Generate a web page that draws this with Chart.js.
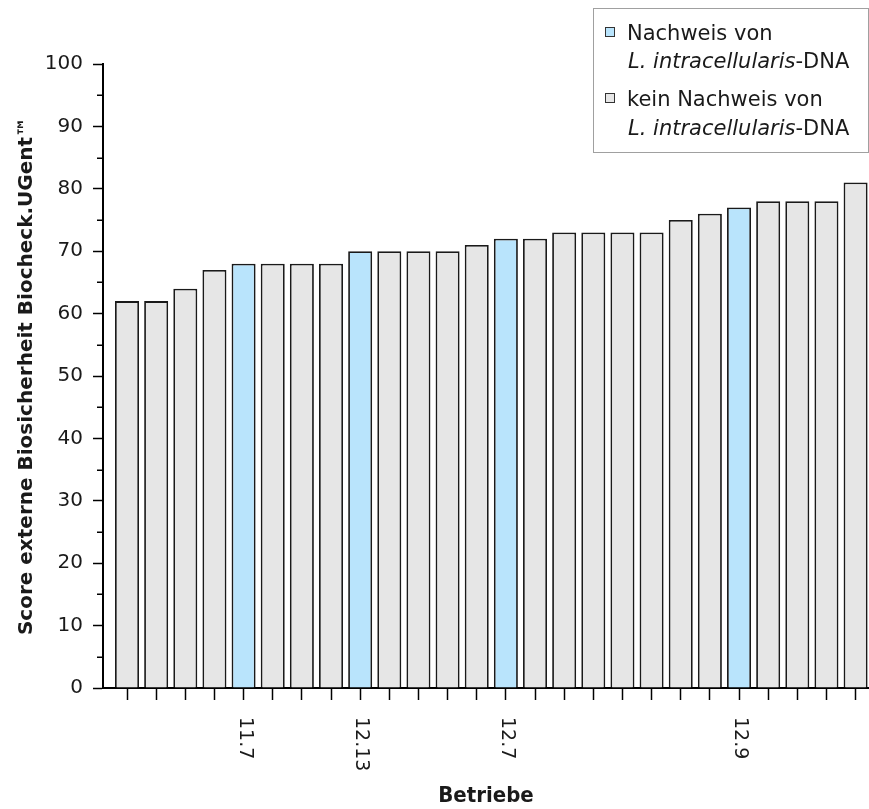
<!DOCTYPE html>
<html>
<head>
<meta charset="utf-8">
<script src="https://cdn.jsdelivr.net/npm/chart.js@4/dist/chart.umd.min.js"></script>
<style>
  html, body { margin: 0; padding: 0; background: #fff; }
  #wrap { position: relative; width: 869px; height: 809px; }
  canvas { display: block; }
</style>
</head>
<body>
<div id="wrap"><canvas id="c" width="869" height="809"></canvas></div>
<script>
// ---- data ----
const categories = ['', '', '', '', '11.7', '', '', '', '12.13', '', '', '', '', '12.7', '', '', '', '', '', '', '', '12.9', '', '', '', ''];
const scores     = [62, 62, 64, 67, 68, 68, 68, 68, 70, 70, 70, 70, 71, 72, 72, 73, 73, 73, 73, 75, 76, 77, 78, 78, 78, 81];
const detected   = [0, 0, 0, 0, 1, 0, 0, 0, 1, 0, 0, 0, 0, 1, 0, 0, 0, 0, 0, 0, 0, 1, 0, 0, 0, 0];
const yTicks     = [0, 10, 20, 30, 40, 50, 60, 70, 80, 90, 100];
const legendLabels = [
  ['Nachweis von', 'L. intracellularis', '-DNA'],
  ['kein Nachweis von', 'L. intracellularis', '-DNA']
];
const yTitle = 'Score externe Biosicherheit Biocheck.UGent™';
const xTitle = 'Betriebe';

// ---- styles ----
const BLUE = '#b9e4fc';
const GREY = '#e6e6e6';
const EDGE = '#1a1a1a';
const TXT = '#1a1a1a';
const FONT = '"DejaVu Sans", "Noto Sans", sans-serif';

const tableData = scores.map((v, i) => ({ x: i + 1, y: v }));

const extras = {
  id: 'extras',
  afterDraw(chart) {
    const ctx = chart.ctx;
    const xs = chart.scales.x, ys = chart.scales.y;
    const left = chart.chartArea.left;
    ctx.save();
    // minor y ticks
    ctx.strokeStyle = '#000';
    ctx.lineWidth = 1.5;
    for (let v = 5; v < 100; v += 10) {
      const y = Math.round(ys.getPixelForValue(v)) + 0.25;
      ctx.beginPath();
      ctx.moveTo(left - 6, y);
      ctx.lineTo(left, y);
      ctx.stroke();
    }
    // x tick labels rotated clockwise
    ctx.fillStyle = TXT;
    ctx.font = '19px ' + FONT;
    ctx.textAlign = 'left';
    ctx.textBaseline = 'middle';
    categories.forEach((lab, i) => {
      if (!lab) return;
      const x = xs.getPixelForValue(i + 1);
      ctx.save();
      ctx.translate(x + 1, 717);
      ctx.rotate(Math.PI / 2);
      ctx.fillText(lab, 0, 0);
      ctx.restore();
    });
    // legend
    ctx.fillStyle = '#fff';
    ctx.fillRect(593.5, 8.5, 275, 144);
    ctx.strokeStyle = '#a0a0a0';
    ctx.lineWidth = 1;
    ctx.strokeRect(593.5, 8.5, 275, 144);
    const baselines = [[40, 68], [106, 135]];
    const fills = [BLUE, GREY];
    legendLabels.forEach((lab, k) => {
      const [b1, b2] = baselines[k];
      ctx.fillStyle = fills[k];
      ctx.fillRect(605, b1 - 13, 9, 9);
      ctx.strokeStyle = '#333';
      ctx.lineWidth = 1;
      ctx.strokeRect(605.5, b1 - 12.5, 9, 9);
      ctx.fillStyle = TXT;
      ctx.textBaseline = 'alphabetic';
      ctx.textAlign = 'left';
      ctx.font = '21px ' + FONT;
      ctx.fillText(lab[0], 627, b1);
      ctx.font = 'italic 21px ' + FONT;
      ctx.fillText(lab[1], 628, b2);
      const w = ctx.measureText(lab[1]).width;
      ctx.font = '21px ' + FONT;
      ctx.fillText(lab[2], 628 + w, b2);
    });
    ctx.restore();
  }
};

new Chart(document.getElementById('c'), {
  type: 'bar',
  data: {
    datasets: [{
      data: tableData,
      backgroundColor: detected.map(d => d ? BLUE : GREY),
      borderColor: EDGE,
      borderWidth: 1.8,
      barPercentage: 0.824,
      categoryPercentage: 1.0
    }]
  },
  options: {
    responsive: false,
    animation: false,
    events: [],
    layout: { padding: { top: 64, right: 0, left: 0, bottom: 0 } },
    plugins: { legend: { display: false }, tooltip: { enabled: false } },
    scales: {
      x: {
        type: 'linear',
        offset: false,
        min: 0.176,
        max: 26.46,
        afterBuildTicks: s => { s.ticks = scores.map((_, i) => ({ value: i + 1 })); },
        afterFit: s => { s.height = 121; },
        grid: { offset: false, drawOnChartArea: false, drawTicks: true, tickLength: 12, tickColor: '#000', tickWidth: 1.5 },
        border: { display: true, color: '#000', width: 2 },
        ticks: { display: false },
        title: {
          display: true, text: xTitle, color: TXT,
          font: { family: '"DejaVu Sans Condensed", "Roboto Condensed", Roboto, sans-serif', size: 22, weight: '700', lineHeight: 1.2 },
          padding: { top: 0, bottom: 0 }
        }
      },
      y: {
        min: 0, max: 100,
        afterBuildTicks: s => { s.ticks = yTicks.map(v => ({ value: v })); },
        afterFit: s => { s.width = 103; },
        grid: { drawOnChartArea: false, drawTicks: true, tickLength: 10, tickColor: '#000', tickWidth: 1.5 },
        border: { display: true, color: '#000', width: 2 },
        ticks: { color: TXT, padding: 10, font: { family: FONT, size: 20 } },
        title: {
          display: true, text: yTitle, color: TXT,
          font: { family: FONT, size: 20, weight: '700', lineHeight: 1.2 },
          padding: { top: 15, bottom: 0 }
        }
      }
    }
  },
  plugins: [extras]
});
</script>
</body>
</html>
